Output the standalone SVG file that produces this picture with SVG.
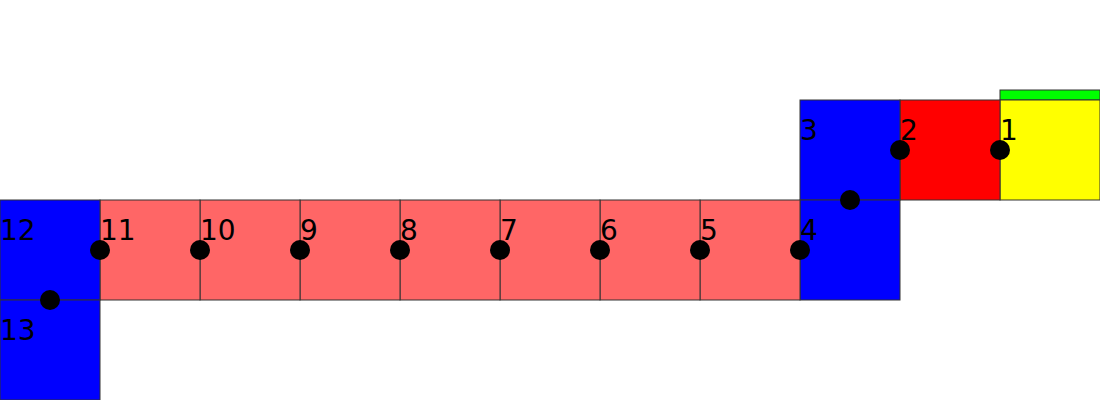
<svg xmlns="http://www.w3.org/2000/svg" width="1100" height="400" viewBox="0 0 1100 400">
<style>
.c{stroke:#333;stroke-width:1}
.b{fill:#0000ff}.p{fill:#ff6666}.r{fill:#ff0000}.y{fill:#ffff00}.g{fill:#00ff00}
.d{fill:#000}
text{font-family:"DejaVu Sans",sans-serif;font-size:28px;fill:#000}
</style>
<rect width="1100" height="400" fill="#fff"/>
<g id="n1"><rect class="c g" x="1000" y="90" width="100" height="10"/><rect class="c y" x="1000" y="100" width="100" height="100"/><text x="1000" y="140">1</text></g>
<g id="n2"><rect class="c r" x="900" y="100" width="100" height="100"/><text x="900" y="140">2</text></g>
<g id="n3"><rect class="c b" x="800" y="100" width="100" height="100"/><text x="800" y="140">3</text></g>
<g id="n4"><rect class="c b" x="800" y="200" width="100" height="100"/><text x="800" y="240">4</text></g>
<g id="n5"><rect class="c p" x="700" y="200" width="100" height="100"/><text x="700" y="240">5</text></g>
<g id="n6"><rect class="c p" x="600" y="200" width="100" height="100"/><text x="600" y="240">6</text></g>
<g id="n7"><rect class="c p" x="500" y="200" width="100" height="100"/><text x="500" y="240">7</text></g>
<g id="n8"><rect class="c p" x="400" y="200" width="100" height="100"/><text x="400" y="240">8</text></g>
<g id="n9"><rect class="c p" x="300" y="200" width="100" height="100"/><text x="300" y="240">9</text></g>
<g id="n10"><rect class="c p" x="200" y="200" width="100" height="100"/><text x="200" y="240">10</text></g>
<g id="n11"><rect class="c p" x="100" y="200" width="100" height="100"/><text x="100" y="240">11</text></g>
<g id="n12"><rect class="c b" x="0" y="200" width="100" height="100"/><text x="0" y="240">12</text></g>
<g id="n13"><rect class="c b" x="0" y="300" width="100" height="100"/><text x="0" y="340">13</text></g>
<g id="connectors">
<circle class="d" cx="1000" cy="150" r="10"/>
<circle class="d" cx="900" cy="150" r="10"/>
<circle class="d" cx="850" cy="200" r="10"/>
<circle class="d" cx="800" cy="250" r="10"/>
<circle class="d" cx="700" cy="250" r="10"/>
<circle class="d" cx="600" cy="250" r="10"/>
<circle class="d" cx="500" cy="250" r="10"/>
<circle class="d" cx="400" cy="250" r="10"/>
<circle class="d" cx="300" cy="250" r="10"/>
<circle class="d" cx="200" cy="250" r="10"/>
<circle class="d" cx="100" cy="250" r="10"/>
<circle class="d" cx="50" cy="300" r="10"/>
</g>
</svg>
